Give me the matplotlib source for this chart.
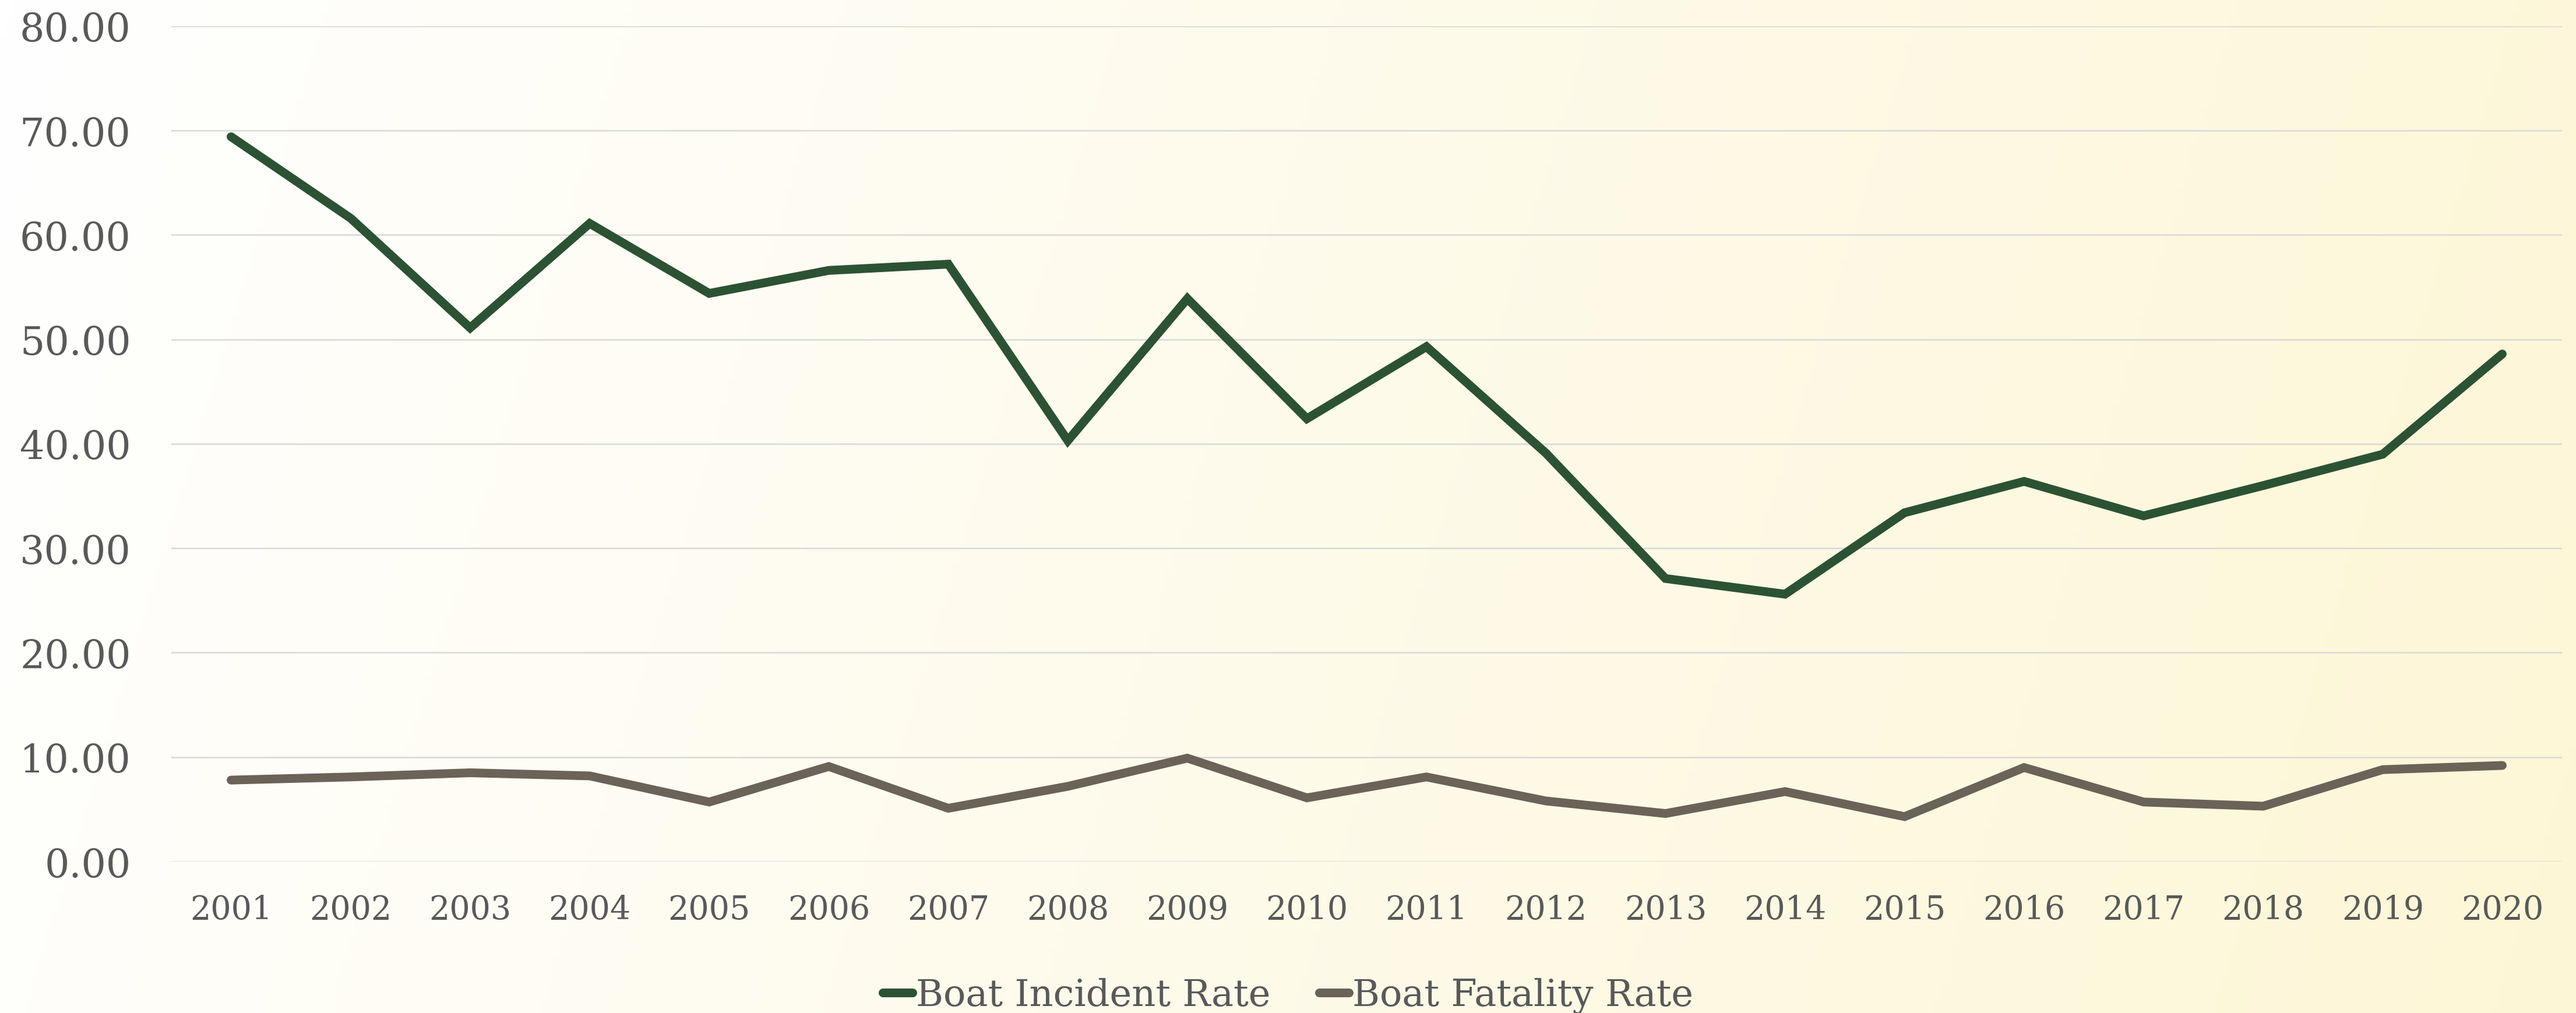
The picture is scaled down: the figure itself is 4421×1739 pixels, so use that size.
import numpy as np
import matplotlib
matplotlib.use("Agg")
import matplotlib.pyplot as plt
from matplotlib.colors import LinearSegmentedColormap
from matplotlib.ticker import FormatStrFormatter

years = [str(y) for y in range(2001, 2021)]
incident_rate = [69.4, 61.6, 51.1, 61.1, 54.4, 56.6, 57.2, 40.3, 53.9, 42.4,
                 49.3, 39.1, 27.1, 25.6, 33.4, 36.4, 33.1, 36.0, 39.0, 48.6]
fatality_rate = [7.8, 8.1, 8.5, 8.2, 5.7, 9.1, 5.1, 7.2, 9.9, 6.1,
                 8.1, 5.8, 4.6, 6.7, 4.3, 9.0, 5.7, 5.3, 8.8, 9.2]

W, H, DPI = 4421, 1740, 100
fig = plt.figure(figsize=(W / DPI, H / DPI), dpi=DPI)

# background gradient (white top-left -> pale yellow right)
bg = fig.add_axes([0, 0, 1, 1], zorder=-10)
gx, gy = np.meshgrid(np.linspace(0, 1, 400), np.linspace(0, 1, 160))
t = (gx * W + 0.3 * gy * H) / (W + 0.3 * H)
cmap = LinearSegmentedColormap.from_list("bg", ["#ffffff", "#fdf6d6"])
bg.imshow(t, cmap=cmap, aspect="auto", extent=[0, 1, 0, 1], origin="upper")
bg.axis("off")

ax = fig.add_axes([294 / W, (H - 1480) / H, (4397 - 294) / W, (1480 - 45.7) / H])
ax.patch.set_alpha(0)

x = np.arange(len(years))
ax.plot(x, incident_rate, color="#2c5234", lw=10.8, solid_capstyle="round",
        solid_joinstyle="miter", label="Boat Incident Rate", zorder=3)
ax.plot(x, fatality_rate, color="#6b6258", lw=10.8, solid_capstyle="round",
        solid_joinstyle="miter", label="Boat Fatality Rate", zorder=3)

ax.set_xlim(-0.5, len(years) - 0.5)
ax.set_ylim(0, 80)
ax.set_yticks(np.arange(0, 81, 10))
ax.yaxis.set_major_formatter(FormatStrFormatter("%.2f"))
ax.set_xticks(x)
ax.set_xticklabels(years)
ax.grid(axis="y", color="#d9d9d9", lw=1.8, zorder=0)
ax.set_axisbelow(True)
for s in ax.spines.values():
    s.set_visible(False)

ax.tick_params(axis="y", length=0, pad=50, labelsize=48, labelcolor="#595959")
ax.tick_params(axis="x", length=0, pad=40, labelsize=40, labelcolor="#595959")
for lbl in ax.get_xticklabels() + ax.get_yticklabels():
    lbl.set_family("DejaVu Serif")

leg = fig.legend(loc="center", bbox_to_anchor=(0.5, 0.017), ncol=2, frameon=False,
                 handlelength=0.8, handletextpad=0.1, columnspacing=1.3,
                 prop={"family": "DejaVu Serif", "size": 46})
for txt in leg.get_texts():
    txt.set_color("#595959")

fig.savefig("out.png", dpi=DPI)
